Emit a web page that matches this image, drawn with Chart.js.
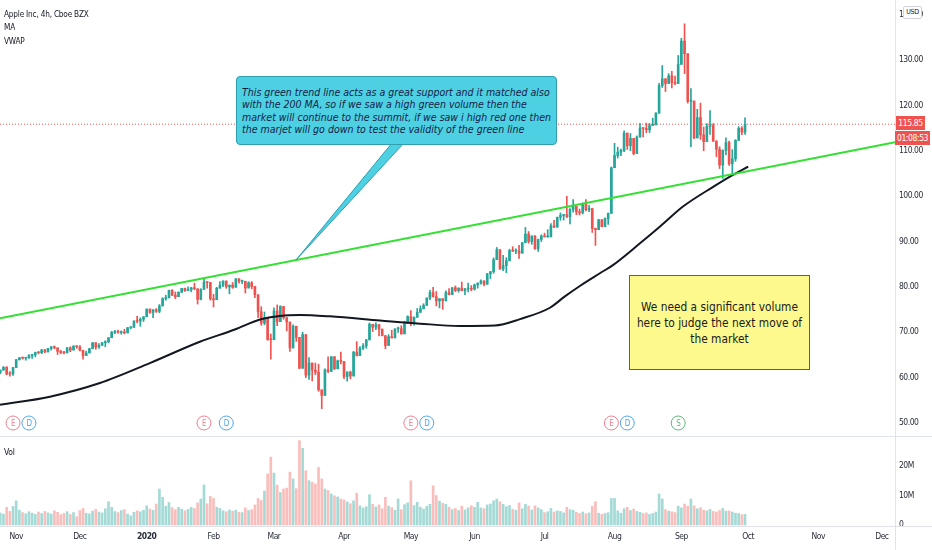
<!DOCTYPE html>
<html>
<head>
<meta charset="utf-8">
<script src="https://cdn.jsdelivr.net/npm/chart.js@4.4.0/dist/chart.umd.min.js"></script>
<style>
  html, body { margin:0; padding:0; background:#ffffff; }
  #wrap { position:relative; width:932px; height:550px; overflow:hidden; background:#fff;
    font-family:"Liberation Sans Narrow","DejaVu Sans Condensed","Liberation Sans",sans-serif; color:#2a2e39; }
  canvas { position:absolute; left:0; }
  #cPrice { top:0; }
  #cVol { top:437px; }
  .hline { position:absolute; left:0; width:932px; height:1px; background:#e0e3eb; }
  .vline { position:absolute; top:0; left:895px; width:1px; height:550px; background:#e0e3eb; }
  #legend { position:absolute; left:4px; top:8px; font-size:8.2px; letter-spacing:-0.2px; line-height:13.3px; color:#131722; white-space:nowrap; }
  #volLbl { position:absolute; left:4px; top:446px; font-size:8.5px; letter-spacing:-0.2px; line-height:12px; color:#131722; }
  #usd { position:absolute; left:903px; top:6px; width:19px; height:13px; box-sizing:border-box; border:1px solid #d1d4dc;
    border-radius:2px; background:#fff; font-size:7px; letter-spacing:-0.3px; line-height:11px; text-align:center; color:#131722; }
  .tag { position:absolute; background:#ef5350; color:#fff; font-size:8.5px; letter-spacing:-0.4px; text-align:center; box-sizing:border-box; white-space:nowrap; }
  #tagPrice { left:896px; top:116px; width:29px; height:14px; line-height:14px; }
  #tagTime { left:895px; top:131px; width:35px; height:14px; line-height:14px; }
  #callout { position:absolute; left:236px; top:76px; width:321px; height:69px; box-sizing:border-box;
    background:#4dd0e1; border:1px solid #2f9fb0; border-radius:4px; padding:9px 0 0 5px;
    font-style:italic; font-size:10.5px; line-height:12.4px; color:#16214a; white-space:nowrap; }
  #note { position:absolute; left:629px; top:275px; width:181px; height:95px; box-sizing:border-box;
    background:#fdf98d; border:1px solid #5f5f5f; display:flex; align-items:center; justify-content:center;
    text-align:center; font-size:11.8px; line-height:16px; color:#1a1a1a; white-space:nowrap; }
</style>
</head>
<body>
<div id="wrap">
  <canvas id="cPrice" width="932" height="437"></canvas>
  <canvas id="cVol" width="932" height="113"></canvas>
  <div class="hline" style="top:436px"></div>
  <div class="hline" style="top:526px"></div>
  <div class="vline"></div>
  <div id="legend">Apple Inc, 4h, Cboe BZX<br>MA<br>VWAP</div>
  <div id="volLbl">Vol</div>
  <div id="usd">USD</div>
  <div id="tagPrice" class="tag">115.85</div>
  <div id="tagTime" class="tag">01:08:53</div>
  <div id="callout">This green trend line acts as a great support and it matched also<br>with the 200 MA, so if we saw a high green volume then the<br>market will continue to the summit, if we saw i high red one then<br>the marjet will go down to test the validity of the green line</div>
  <div id="note"><div>We need a significant volume<br>here to judge the next move of<br>the market</div></div>
</div>
<script>
// ---------------- DATA (daily bars, index 0 = 1 Nov 2019) ----------------
const startIdx = -5;          // first bar: 25 Oct 2019
const firstOpen = 61.13;
const closes = [
  61.65, 62.26, 60.82, 60.81, 62.19,
  63.96, 64.38, 64.28, 64.31, 64.86, 65.04, 65.55, 65.49, 66.12, 65.66, 66.44, 66.78, 66.57, 65.80, 65.50, 65.45, 66.59, 66.07, 66.96, 66.81,
  66.04, 64.86, 65.43, 66.39, 67.68, 66.73, 67.12, 67.69, 67.86, 68.79, 69.96, 70.10, 69.93, 70.00, 69.86, 71.00, 71.07, 72.48, 72.45, 72.88, 73.41,
  75.09, 74.36, 74.95, 74.60, 75.80, 77.41, 77.58, 79.24, 78.17, 77.83, 78.81, 79.68, 79.14, 79.43, 79.81, 79.58, 77.24, 79.42, 81.08, 80.97, 77.38,
  77.17, 79.71, 80.36, 81.30, 80.01, 80.39, 79.90, 81.80, 81.22, 81.24, 79.75, 80.90, 80.07, 78.26, 74.54, 72.02, 73.16, 68.38, 68.34,
  74.70, 72.33, 75.68, 73.23, 72.26, 66.54, 71.33, 68.86, 62.06, 69.49, 60.55, 63.22, 61.67, 61.20, 57.31, 56.09, 61.72, 61.38, 64.61, 61.94, 63.70, 63.57,
  60.23, 61.23, 60.35, 65.62, 64.86, 66.52, 67.00, 68.31, 71.76, 71.11, 71.67, 70.70, 69.23, 67.09, 69.03, 68.76, 70.74, 70.79, 69.64, 71.93, 73.45,
  72.27, 73.29, 74.39, 75.16, 75.93, 77.53, 78.75, 77.85, 76.91, 77.39, 76.93, 78.74, 78.29, 79.81, 79.21, 79.72, 79.18, 79.53, 79.56, 79.49,
  80.46, 80.83, 81.28, 80.58, 82.88, 83.36, 85.99, 88.21, 83.97, 84.70, 85.75, 88.02, 87.90, 87.93, 87.43, 89.72, 91.63, 90.01, 91.21, 88.41, 90.45, 91.20,
  91.03, 91.03, 93.46, 93.17, 95.34, 95.75, 95.92, 95.48, 97.06, 97.73, 96.52, 96.33, 98.36, 97.00, 97.27, 92.85, 92.61, 94.81, 93.25, 95.04, 96.19, 106.26,
  108.94, 109.67, 110.06, 113.90, 111.11, 112.73, 109.38, 113.01, 115.01, 114.91, 114.61, 115.56, 115.71, 118.28, 124.37, 125.86, 124.82, 126.52, 125.01, 124.81, 129.04,
  134.18, 131.40, 120.88, 120.96, 112.82, 117.32, 113.49, 112.00, 115.36, 115.54, 112.13, 110.34, 106.84, 110.08, 111.81, 107.12, 108.22, 112.28, 114.96, 114.09, 115.81
];
const highs = [
  61.68, 62.44, 62.44, 61.33, 62.29,
  63.98, 64.46, 64.55, 64.37, 65.09, 65.11, 65.62, 65.70, 66.19, 66.22, 66.45, 66.86, 67.00, 66.52, 66.00, 65.80, 66.61, 66.79, 66.99, 67.00,
  67.06, 64.88, 65.83, 66.47, 67.75, 67.70, 67.52, 67.78, 68.14, 68.83, 70.20, 70.44, 70.48, 70.30, 70.66, 71.06, 71.22, 72.50, 73.49, 73.17, 73.42,
  75.15, 75.14, 74.99, 75.22, 76.11, 77.61, 78.17, 79.27, 79.39, 78.88, 78.93, 79.68, 79.75, 79.99, 79.89, 80.83, 77.94, 79.60, 81.96, 81.02, 80.67,
  78.37, 79.91, 81.19, 81.31, 81.19, 80.39, 80.97, 81.81, 81.56, 81.50, 79.94, 81.14, 81.16, 80.11, 75.36, 75.63, 74.47, 71.50, 69.60,
  75.36, 76.00, 75.85, 74.89, 72.71, 69.52, 71.61, 71.10, 67.50, 69.98, 64.77, 64.40, 62.50, 63.21, 62.96, 57.13, 61.92, 64.56, 64.67, 63.97, 63.88, 65.62,
  62.18, 61.29, 61.43, 65.78, 67.93, 66.84, 67.52, 68.43, 72.06, 71.58, 72.05, 71.74, 70.42, 69.31, 69.48, 70.44, 70.75, 71.14, 71.46, 72.42, 73.63,
  74.75, 73.42, 75.25, 75.81, 76.29, 77.59, 79.26, 79.92, 78.99, 77.45, 76.97, 79.13, 79.63, 79.88, 80.22, 79.81, 81.06, 79.68, 80.86, 80.29,
  80.59, 80.86, 81.55, 81.40, 82.94, 83.40, 86.40, 88.69, 87.76, 86.95, 86.42, 88.30, 88.85, 88.36, 89.14, 89.81, 93.10, 92.20, 91.25, 91.33, 90.54, 91.49,
  91.84, 92.62, 93.95, 94.66, 95.38, 96.32, 95.98, 99.96, 97.26, 99.25, 97.41, 97.15, 98.50, 99.25, 97.97, 97.08, 92.97, 94.91, 94.55, 95.23, 96.30, 106.42,
  111.64, 110.79, 110.39, 114.41, 113.68, 113.78, 112.48, 113.28, 116.04, 115.00, 116.09, 116.00, 117.16, 118.39, 124.87, 128.79, 125.18, 126.99, 127.49, 126.44, 131.00,
  134.80, 137.98, 128.84, 123.70, 118.99, 119.14, 120.50, 115.23, 116.00, 118.83, 116.00, 112.20, 110.88, 110.19, 112.86, 112.11, 110.25, 112.44, 115.32, 115.31, 117.26
];
const lows = [
  60.86, 61.65, 60.64, 60.30, 60.50,
  62.29, 63.85, 64.08, 63.84, 64.53, 64.21, 64.57, 65.23, 65.27, 65.52, 65.75, 66.06, 66.35, 65.10, 65.29, 65.21, 65.63, 65.71, 66.33, 66.47,
  65.86, 64.07, 65.17, 65.68, 66.82, 66.23, 66.46, 67.13, 66.83, 67.73, 69.25, 69.70, 69.78, 69.58, 69.64, 70.09, 70.73, 71.18, 72.03, 71.31, 72.38,
  73.80, 74.13, 73.19, 74.37, 74.29, 76.55, 77.06, 77.79, 78.04, 77.39, 78.02, 78.75, 79.00, 79.33, 78.91, 79.38, 76.22, 77.13, 80.35, 79.69, 77.07,
  75.56, 78.41, 79.74, 80.07, 79.69, 78.46, 79.68, 80.37, 80.84, 80.71, 78.65, 80.07, 79.55, 77.63, 73.19, 71.53, 71.63, 68.24, 64.09,
  69.43, 71.45, 73.28, 72.85, 70.31, 65.75, 67.34, 67.97, 62.00, 63.24, 60.00, 59.60, 59.28, 60.65, 57.00, 53.15, 58.58, 61.08, 61.59, 61.76, 62.35, 63.00,
  59.78, 59.22, 59.74, 62.35, 64.75, 65.31, 66.18, 66.46, 69.51, 70.16, 70.59, 69.21, 69.21, 66.36, 68.05, 68.72, 69.25, 69.99, 69.55, 70.97, 72.09,
  71.46, 71.58, 73.61, 74.72, 75.49, 76.07, 77.19, 77.73, 75.80, 75.38, 75.05, 77.58, 78.25, 78.87, 78.97, 78.84, 79.13, 78.27, 78.91, 79.12,
  79.30, 79.73, 80.58, 80.19, 80.81, 81.83, 83.00, 86.52, 83.87, 83.56, 83.14, 86.18, 87.77, 87.31, 86.29, 87.79, 90.57, 89.63, 89.39, 88.25, 87.82, 90.00,
  90.98, 90.91, 92.47, 93.06, 94.09, 94.67, 94.71, 95.26, 93.88, 96.49, 95.91, 95.84, 96.06, 96.74, 96.60, 92.01, 89.14, 93.48, 93.25, 93.71, 93.77, 100.83,
  107.89, 108.39, 108.90, 109.80, 110.29, 110.00, 109.11, 110.30, 113.93, 113.04, 113.96, 114.01, 115.61, 115.73, 119.25, 123.94, 123.05, 125.08, 123.83, 124.58, 126.00,
  130.53, 127.00, 120.50, 110.89, 112.68, 115.26, 112.50, 110.00, 112.04, 113.61, 112.04, 108.71, 106.09, 103.90, 109.16, 106.77, 105.00, 107.67, 112.78, 113.57, 113.62
];
// volume in millions
const volumes = [
  4.0, 3.7, 6.0, 4.6, 6.3,
  8.2, 5.0, 4.2, 3.8, 4.5, 4.0, 3.6, 4.4, 3.9, 4.6, 4.1, 3.7, 4.8, 4.3, 3.5, 3.9, 4.5, 3.6, 4.2, 2.8,
  4.9, 5.6, 4.0, 3.8, 4.7, 5.3, 4.4, 4.1, 5.5, 7.9, 6.0, 4.6, 4.2, 4.9, 5.2, 3.7, 3.1, 4.3, 4.8, 4.5, 5.0,
  6.5, 5.4, 5.0, 7.1, 12.2, 9.4, 6.4, 7.6, 5.9, 5.2, 6.0, 5.4, 4.8, 5.3, 6.0, 5.6, 7.5, 8.8, 13.6, 7.2, 9.7,
  9.0, 6.0, 5.6, 4.8, 4.5, 5.1, 4.7, 5.0, 4.3, 4.2, 5.8, 4.9, 5.2, 6.8, 9.0, 8.3, 11.5, 17.3, 23.0,
  17.6, 13.5, 11.0, 12.2, 12.5, 17.9, 15.6, 12.3, 28.6, 26.0, 18.4, 15.0, 14.5, 13.9, 19.5, 15.6, 12.2, 11.7, 10.5, 9.9, 9.5, 8.8,
  8.5, 7.8, 7.2, 8.2, 10.8, 6.5, 5.8, 6.2, 10.3, 7.0, 6.1, 6.8, 5.5, 9.4, 6.4, 5.9, 5.0, 8.8, 5.2, 6.9, 7.5,
  15.0, 6.6, 7.7, 6.0, 5.4, 6.3, 7.0, 13.3, 10.0, 8.1, 7.4, 7.0, 6.0, 5.2, 5.6, 4.9, 6.4, 5.1, 5.8, 6.5,
  6.0, 7.7, 5.8, 5.5, 6.8, 7.1, 8.2, 8.8, 7.9, 7.0, 6.2, 6.6, 5.3, 5.0, 7.5, 5.5, 7.0, 6.4, 5.1, 6.5, 5.8, 5.2,
  4.2, 4.5, 5.6, 4.4, 4.8, 4.6, 4.1, 6.0, 5.2, 5.0, 4.3, 3.9, 4.4, 3.8, 4.1, 6.3, 7.9, 4.0, 3.6, 3.9, 4.2, 9.0,
  9.0, 4.8, 4.0, 5.5, 6.0, 4.9, 5.4, 4.6, 4.3, 3.9, 4.1, 3.6, 3.9, 4.4, 10.5, 8.8, 5.2, 4.7, 4.5, 4.2, 6.4,
  5.8, 7.1, 6.4, 8.8, 6.5, 5.5, 5.9, 5.0, 4.8, 5.3, 4.6, 4.4, 4.9, 5.6, 4.7, 4.8, 4.4, 4.0, 3.9, 3.5, 3.6
];
// 200 MA (bar index, price)
const maIdx = [-5.09, 10.6, 26.3, 42.0, 57.7, 68.7, 76.6, 82.9, 89.2, 98.6, 114.3, 126.9, 139.4, 150.4, 158.3, 167.7, 172.4, 177.1, 183.4, 187.5, 196.0, 202.3, 209.5, 219.1, 225.2, 230.0];
const maVal = [54.0, 55.8, 58.8, 63.2, 67.9, 70.6, 72.8, 73.6, 73.8, 73.5, 72.6, 71.9, 71.4, 71.5, 72.9, 75.4, 77.9, 80.2, 83.0, 84.8, 89.6, 93.3, 97.7, 102.1, 104.7, 106.5];
// green trend line anchors
const trendIdx = [-5.09, 276.12];
const trendVal = [73.08, 111.88];
const lastPrice = 115.85;
// events (bar index, type)
const eventIdx = [-1, 4, 59, 66, 124, 129, 187, 192, 208];
const eventType = ['E', 'D', 'E', 'D', 'E', 'D', 'E', 'D', 'S'];
// axis ticks
const priceTicks = [50, 60, 70, 80, 90, 100, 110, 120, 130, 140];
const volTicks = [0, 10, 20];
const volTickLabels = ['0', '10M', '20M'];
const timeTickIdx = [0, 20, 41, 62, 81, 103, 124, 144, 166, 188, 209, 230, 252, 272];
const timeTickLabels = ['Nov', 'Dec', '2020', 'Feb', 'Mar', 'Apr', 'May', 'Jun', 'Jul', 'Aug', 'Sep', 'Oct', 'Nov', 'Dec'];
const calloutTipIdx = 87.9;

// ---------------- STYLE ----------------
const FONT = '"Liberation Sans Narrow","DejaVu Sans Condensed","Liberation Sans",sans-serif';
Chart.defaults.font.family = FONT;
Chart.defaults.font.size = 8.5;
Chart.defaults.color = '#2a2e39';
Chart.defaults.animation = false;

const UP = '#26a69a', DOWN = '#ef5350';
const UP_V = 'rgba(38,166,154,0.42)', DOWN_V = 'rgba(239,83,80,0.38)';
const X_MIN = -5.09, X_MAX = 276.12;
const eventColors = { E: '#f07f8e', D: '#4ea7ef', S: '#5cb97a' };

const n = Math.min(closes.length, highs.length, lows.length, volumes.length);
const bars = [];
for (let i = 0; i < n; i++) {
  const o = i === 0 ? firstOpen : closes[i - 1];
  const c = closes[i];
  bars.push({ x: startIdx + i, o, c, h: Math.max(highs[i], o, c), l: Math.min(lows[i], o, c), v: volumes[i], up: c >= o });
}

function trendAt(ix) {
  return trendVal[0] + (trendVal[1] - trendVal[0]) * (ix - trendIdx[0]) / (trendIdx[1] - trendIdx[0]);
}

function fixY(scale) { scale.width = 37; scale.paddingTop = 0; scale.paddingBottom = 0; }

const tightText = {
  id: 'tightText',
  beforeDraw(chart) { try { chart.ctx.letterSpacing = '-0.5px'; } catch (e) {} }
};

const annot = {
  id: 'annot',
  afterDatasetsDraw(chart) {
    const { ctx, chartArea, scales: { x, y } } = chart;
    ctx.save();
    // callout tail
    const tx = x.getPixelForValue(calloutTipIdx);
    const ty = y.getPixelForValue(trendAt(calloutTipIdx));
    ctx.beginPath();
    ctx.moveTo(392, 143); ctx.lineTo(404, 143); ctx.lineTo(tx, ty); ctx.closePath();
    ctx.fillStyle = '#4dd0e1'; ctx.fill();
    ctx.strokeStyle = '#2f9fb0'; ctx.lineWidth = 1; ctx.stroke();
    // event markers
    const ey = chartArea.bottom - 14;
    eventIdx.forEach((v, i) => {
      const ex = x.getPixelForValue(v);
      const col = eventColors[eventType[i]];
      ctx.beginPath(); ctx.arc(ex, ey, 7, 0, Math.PI * 2);
      ctx.fillStyle = '#fff'; ctx.fill();
      ctx.strokeStyle = col; ctx.lineWidth = 1; ctx.stroke();
      ctx.fillStyle = col; ctx.font = '8px ' + FONT;
      ctx.textAlign = 'center'; ctx.textBaseline = 'middle';
      ctx.fillText(eventType[i], ex, ey + 0.5);
    });
    ctx.restore();
  }
};

new Chart(document.getElementById('cPrice'), {
  type: 'bar',
  data: {
    datasets: [
      { type: 'line', data: [{ x: X_MIN, y: lastPrice }, { x: X_MAX, y: lastPrice }], borderColor: '#ef5350',
        borderWidth: 1, borderDash: [1, 2], pointRadius: 0, order: 9 },
      { type: 'bar', data: bars.map(b => ({ x: b.x, y: [b.l, b.h] })), backgroundColor: bars.map(b => b.up ? UP : DOWN),
        barThickness: 1, minBarLength: 1, grouped: false, borderWidth: 0, order: 5 },
      { type: 'bar', data: bars.map(b => ({ x: b.x, y: [Math.min(b.o, b.c), Math.max(b.o, b.c)] })), backgroundColor: bars.map(b => b.up ? UP : DOWN),
        barThickness: 2, minBarLength: 1, grouped: false, borderWidth: 0, order: 4 },
      { type: 'line', data: maIdx.map((v, i) => ({ x: v, y: maVal[i] })), borderColor: '#131722', borderWidth: 2,
        pointRadius: 0, cubicInterpolationMode: 'monotone', order: 2 },
      { type: 'line', data: trendIdx.map((v, i) => ({ x: v, y: trendVal[i] })), borderColor: '#33e033', borderWidth: 2,
        pointRadius: 0, order: 1 }
    ]
  },
  options: {
    responsive: false, animation: false, events: [],
    layout: { padding: 0 },
    plugins: { legend: { display: false }, tooltip: { enabled: false } },
    scales: {
      x: { type: 'linear', min: X_MIN, max: X_MAX, offset: false, display: false },
      y: { type: 'linear', position: 'right', min: 46.915, max: 143.223, beginAtZero: false,
        grid: { display: false, drawTicks: false }, border: { display: false },
        afterBuildTicks: s => { s.ticks = priceTicks.map(v => ({ value: v })); },
        afterFit: fixY,
        ticks: { padding: 4, callback: v => Number(v).toFixed(2), color: '#2a2e39', font: { size: 8.5 } } }
    }
  },
  plugins: [tightText, annot]
});

new Chart(document.getElementById('cVol'), {
  type: 'bar',
  data: {
    datasets: [
      { type: 'bar', data: bars.map(b => ({ x: b.x, y: b.v })), backgroundColor: bars.map(b => b.up ? UP_V : DOWN_V),
        barThickness: 2, grouped: false, borderWidth: 0 }
    ]
  },
  options: {
    responsive: false, animation: false, events: [],
    layout: { padding: 0 },
    plugins: { legend: { display: false }, tooltip: { enabled: false } },
    scales: {
      x: { type: 'linear', position: 'bottom', min: X_MIN, max: X_MAX, offset: false,
        grid: { display: false, drawTicks: false }, border: { display: false },
        afterBuildTicks: s => { s.ticks = timeTickIdx.map(v => ({ value: v })); },
        afterFit: s => { s.height = 24; s.paddingLeft = 0; s.paddingRight = 0; },
        ticks: { padding: 6, autoSkip: false, maxRotation: 0, minRotation: 0, color: '#2a2e39',
          callback: (v, i) => timeTickLabels[i],
          font: c => ({ size: 8.5, weight: (timeTickLabels[c.index] === '2020') ? 'bold' : 'normal' }) } },
      y: { type: 'linear', position: 'right', min: -0.34, max: 29.83, beginAtZero: false,
        grid: { display: false, drawTicks: false }, border: { display: false },
        afterBuildTicks: s => { s.ticks = volTicks.map(v => ({ value: v })); },
        afterFit: fixY,
        ticks: { padding: 4, callback: (v, i) => volTickLabels[i], color: '#2a2e39', font: { size: 8.5 } } }
    }
  },
  plugins: [tightText]
});
</script>
</body>
</html>
